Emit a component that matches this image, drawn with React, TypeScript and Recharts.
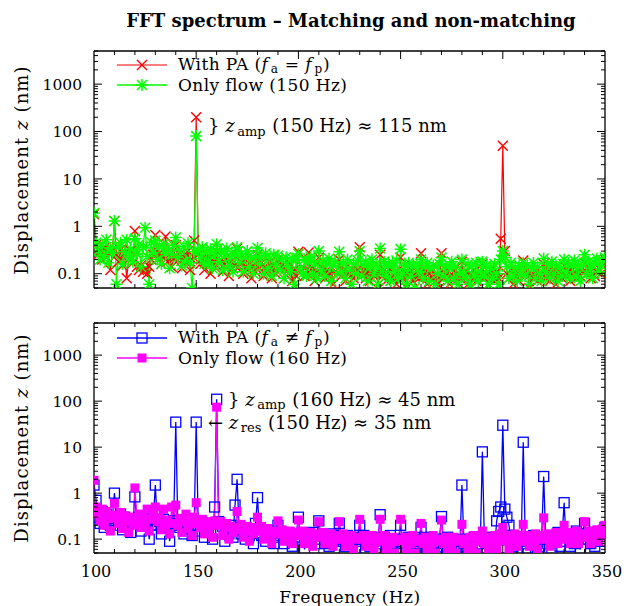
import React from "react";
import { LineChart, Line, XAxis, YAxis } from "recharts";

// Frequency grid: samples every 1 Hz starting at 100 Hz
const F_START = 100;
const F_STEP = 1;

// ---- Top panel: matching case ----
const withPaMatch = [
  1.8, 0.4, 0.25, 0.3, 0.2, 0.35, 0.22, 0.28, 0.12, 0.3,
  1.3, 0.25, 0.18, 0.32, 0.15, 0.27, 0.08, 0.22, 0.3, 0.17,
  0.8, 0.14, 0.12, 0.15, 0.11, 0.13, 0.1, 0.14, 0.2, 0.25,
  0.66, 0.2, 0.27, 0.16, 0.23, 0.61, 0.18, 0.25, 0.14, 0.21,
  0.4, 0.19, 0.26, 0.13, 0.22, 0.17, 0.3, 0.12, 0.2, 0.5,
  200, 0.25, 0.16, 0.21, 0.12, 0.19, 0.24, 0.1, 0.18, 0.14,
  0.3, 0.17, 0.2, 0.11, 0.16, 0.22, 0.09, 0.18, 0.13, 0.15,
  0.34, 0.14, 0.18, 0.1, 0.2, 0.12, 0.16, 0.08, 0.15, 0.11,
  0.25, 0.13, 0.17, 0.09, 0.14, 0.11, 0.18, 0.08, 0.13, 0.1,
  0.2, 0.12, 0.15, 0.08, 0.13, 0.1, 0.16, 0.07, 0.12, 0.09,
  0.29, 0.11, 0.14, 0.09, 0.12, 0.28, 0.1, 0.13, 0.07, 0.11,
  0.22, 0.1, 0.13, 0.08, 0.12, 0.09, 0.14, 0.06, 0.11, 0.1,
  0.2, 0.09, 0.12, 0.07, 0.11, 0.1, 0.13, 0.08, 0.1, 0.12,
  0.36, 0.1, 0.12, 0.08, 0.11, 0.07, 0.13, 0.09, 0.1, 0.06,
  0.25, 0.09, 0.12, 0.07, 0.1, 0.13, 0.08, 0.11, 0.06, 0.1,
  0.22, 0.08, 0.11, 0.05, 0.1, 0.12, 0.07, 0.09, 0.11, 0.08,
  0.27, 0.09, 0.11, 0.06, 0.1, 0.08, 0.12, 0.07, 0.09, 0.05,
  0.27, 0.08, 0.1, 0.12, 0.06, 0.09, 0.11, 0.07, 0.1, 0.08,
  0.18, 0.09, 0.11, 0.06, 0.1, 0.08, 0.12, 0.07, 0.09, 0.11,
  0.16, 0.08, 0.1, 0.06, 0.12, 0.09, 0.07, 0.11, 0.08, 0.55,
  50, 0.3, 0.1, 0.08, 0.12, 0.06, 0.09, 0.11, 0.07, 0.1,
  0.19, 0.09, 0.12, 0.05, 0.1, 0.08, 0.11, 0.07, 0.09, 0.1,
  0.16, 0.08, 0.11, 0.07, 0.1, 0.12, 0.06, 0.09, 0.11, 0.08,
  0.15, 0.09, 0.11, 0.07, 0.12, 0.1, 0.08, 0.13, 0.09, 0.11,
  0.17, 0.1, 0.12, 0.08, 0.14, 0.09, 0.11, 0.13, 0.1, 0.16,
  0.2,
];

const onlyFlow150 = [
  1.9, 0.45, 0.3, 0.2, 0.4, 0.24, 0.52, 0.17, 0.35, 0.27,
  1.3, 0.06, 0.37, 0.45, 0.16, 0.29, 0.52, 0.22, 0.33, 0.18,
  0.55, 0.26, 0.42, 0.14, 0.36, 0.93, 0.23, 0.06, 0.46, 0.28,
  0.5, 0.2, 0.38, 0.16, 0.43, 0.27, 0.35, 0.13, 0.26, 0.4,
  0.58, 0.22, 0.31, 0.15, 0.37, 0.19, 0.44, 0.17, 0.05, 0.29,
  80, 0.31, 0.21, 0.36, 0.16, 0.28, 0.18, 0.33, 0.13, 0.26,
  0.42, 0.18, 0.3, 0.12, 0.25, 0.34, 0.15, 0.23, 0.11, 0.27,
  0.36, 0.17, 0.26, 0.11, 0.22, 0.3, 0.14, 0.21, 0.1, 0.24,
  0.35, 0.16, 0.23, 0.1, 0.27, 0.13, 0.21, 0.09, 0.25, 0.15,
  0.24, 0.12, 0.2, 0.08, 0.22, 0.14, 0.11, 0.21, 0.06, 0.19,
  0.26, 0.13, 0.1, 0.2, 0.09, 0.18, 0.23, 0.1, 0.17, 0.08,
  0.3, 0.12, 0.19, 0.09, 0.16, 0.21, 0.07, 0.15, 0.18, 0.1,
  0.29, 0.11, 0.17, 0.08, 0.2, 0.12, 0.06, 0.16, 0.1, 0.19,
  0.3, 0.09, 0.15, 0.18, 0.07, 0.14, 0.2, 0.1, 0.16, 0.06,
  0.34, 0.11, 0.18, 0.09, 0.15, 0.07, 0.17, 0.11, 0.19, 0.08,
  0.33, 0.1, 0.15, 0.06, 0.17, 0.09, 0.14, 0.05, 0.16, 0.11,
  0.2, 0.08, 0.14, 0.17, 0.07, 0.13, 0.15, 0.06, 0.1, 0.16,
  0.22, 0.09, 0.15, 0.07, 0.13, 0.18, 0.08, 0.14, 0.06, 0.1,
  0.2, 0.11, 0.08, 0.16, 0.06, 0.14, 0.09, 0.17, 0.07, 0.11,
  0.18, 0.09, 0.15, 0.06, 0.13, 0.08, 0.16, 0.1, 0.06, 0.2,
  0.3, 0.22, 0.14, 0.08, 0.17, 0.09, 0.13, 0.07, 0.15, 0.1,
  0.17, 0.09, 0.15, 0.06, 0.13, 0.17, 0.08, 0.14, 0.1, 0.07,
  0.21, 0.11, 0.16, 0.08, 0.18, 0.1, 0.15, 0.07, 0.14, 0.09,
  0.2, 0.11, 0.17, 0.08, 0.15, 0.19, 0.09, 0.14, 0.07, 0.16,
  0.25, 0.1, 0.18, 0.13, 0.08, 0.17, 0.21, 0.11, 0.15, 0.19,
  0.22,
];

// ---- Bottom panel: non-matching case ----
const withPaNonMatch = [
  1.5, 0.7, 0.3, 0.22, 0.4, 0.18, 0.35, 0.25, 0.2, 0.3,
  1.0, 0.28, 0.2, 0.35, 0.16, 0.3, 0.22, 0.26, 0.14, 0.24,
  0.83, 0.22, 0.3, 0.15, 0.25, 0.19, 0.28, 0.1, 0.21, 0.26,
  1.5, 0.2, 0.24, 0.13, 0.27, 0.18, 0.22, 0.09, 0.2, 0.25,
  35, 0.22, 0.18, 0.26, 0.13, 0.21, 0.17, 0.24, 0.12, 0.2,
  35, 0.2, 0.15, 0.23, 0.11, 0.19, 0.16, 0.21, 0.1, 0.5,
  110, 0.24, 0.14, 0.19, 0.09, 0.17, 0.13, 0.2, 0.11, 0.55,
  2.0, 0.18, 0.13, 0.16, 0.1, 0.15, 0.12, 0.17, 0.08, 0.22,
  0.8, 0.14, 0.12, 0.16, 0.09, 0.13, 0.11, 0.15, 0.08, 0.12,
  0.2, 0.11, 0.14, 0.08, 0.13, 0.1, 0.12, 0.07, 0.11, 0.13,
  0.3, 0.1, 0.13, 0.06, 0.12, 0.09, 0.11, 0.14, 0.08, 0.12,
  0.25, 0.1, 0.12, 0.08, 0.11, 0.07, 0.13, 0.09, 0.1, 0.12,
  0.22, 0.09, 0.11, 0.07, 0.12, 0.1, 0.08, 0.11, 0.06, 0.1,
  0.2, 0.09, 0.12, 0.08, 0.1, 0.07, 0.11, 0.09, 0.06, 0.1,
  0.34, 0.08, 0.11, 0.07, 0.1, 0.12, 0.06, 0.09, 0.05, 0.1,
  0.2, 0.08, 0.1, 0.06, 0.11, 0.05, 0.09, 0.07, 0.1, 0.08,
  0.18, 0.07, 0.1, 0.05, 0.09, 0.11, 0.06, 0.08, 0.05, 0.1,
  0.31, 0.07, 0.09, 0.11, 0.05, 0.08, 0.1, 0.06, 0.09, 0.07,
  1.5, 0.08, 0.1, 0.06, 0.09, 0.05, 0.11, 0.07, 0.1, 0.08,
  7.9, 0.09, 0.05, 0.1, 0.07, 0.11, 0.06, 0.25, 0.4, 0.5,
  30, 0.45, 0.3, 0.2, 0.09, 0.07, 0.1, 0.05, 0.11, 0.08,
  12.8, 0.09, 0.06, 0.1, 0.08, 0.12, 0.05, 0.09, 0.07, 0.11,
  2.3, 0.1, 0.08, 0.12, 0.06, 0.1, 0.09, 0.14, 0.07, 0.11,
  0.62, 0.09, 0.13, 0.07, 0.11, 0.08, 0.15, 0.1, 0.06, 0.12,
  0.22, 0.1, 0.14, 0.08, 0.12, 0.07, 0.11, 0.13, 0.09, 0.15,
  0.18,
];

const onlyFlow160 = [
  1.9, 0.5, 0.35, 0.25, 0.45, 0.2, 0.4, 0.28, 0.15, 0.33,
  0.6, 0.3, 0.22, 0.38, 0.17, 0.32, 0.25, 0.14, 0.3, 0.2,
  1.3, 0.28, 0.35, 0.18, 0.3, 0.22, 0.45, 0.15, 0.27, 0.33,
  0.5, 0.24, 0.3, 0.16, 0.45, 0.2, 0.26, 0.13, 0.5, 0.22,
  0.55, 0.2, 0.28, 0.14, 0.24, 0.35, 0.17, 0.22, 0.12, 0.3,
  0.62, 0.22, 0.18, 0.27, 0.13, 0.24, 0.16, 0.2, 0.11, 0.25,
  74, 0.2, 0.24, 0.12, 0.18, 0.22, 0.1, 0.19, 0.14, 0.16,
  0.4, 0.17, 0.21, 0.11, 0.16, 0.19, 0.09, 0.15, 0.13, 0.18,
  0.3, 0.15, 0.19, 0.1, 0.14, 0.17, 0.12, 0.08, 0.15, 0.13,
  0.25, 0.13, 0.16, 0.09, 0.14, 0.11, 0.15, 0.08, 0.12, 0.14,
  0.26, 0.12, 0.15, 0.08, 0.13, 0.1, 0.14, 0.07, 0.11, 0.13,
  0.24, 0.11, 0.14, 0.08, 0.12, 0.09, 0.13, 0.07, 0.1, 0.12,
  0.24, 0.1, 0.13, 0.07, 0.11, 0.09, 0.12, 0.06, 0.1, 0.11,
  0.27, 0.1, 0.12, 0.07, 0.11, 0.08, 0.12, 0.06, 0.09, 0.11,
  0.27, 0.09, 0.12, 0.06, 0.1, 0.08, 0.11, 0.05, 0.09, 0.1,
  0.27, 0.09, 0.11, 0.06, 0.1, 0.08, 0.12, 0.05, 0.09, 0.1,
  0.22, 0.08, 0.11, 0.06, 0.1, 0.07, 0.12, 0.05, 0.09, 0.1,
  0.26, 0.08, 0.11, 0.06, 0.1, 0.07, 0.11, 0.05, 0.09, 0.1,
  0.21, 0.08, 0.1, 0.06, 0.11, 0.07, 0.12, 0.05, 0.09, 0.1,
  0.15, 0.08, 0.11, 0.06, 0.1, 0.07, 0.12, 0.06, 0.09, 0.13,
  0.18, 0.09, 0.12, 0.06, 0.11, 0.08, 0.13, 0.07, 0.1, 0.12,
  0.21, 0.09, 0.12, 0.07, 0.11, 0.08, 0.13, 0.06, 0.1, 0.12,
  0.29, 0.1, 0.13, 0.07, 0.12, 0.09, 0.14, 0.08, 0.11, 0.13,
  0.2, 0.1, 0.14, 0.08, 0.12, 0.09, 0.15, 0.08, 0.11, 0.13,
  0.24, 0.11, 0.15, 0.08, 0.13, 0.1, 0.16, 0.09, 0.12, 0.17,
  0.2,
];

// ---- Axes ----
const X_DOMAIN: [number, number] = [100, 350];
const xMajorTicks = [100, 150, 200, 250, 300, 350];
const xMinorStep = 10;
const Y_DOMAIN: [number, number] = [0.05, 5000];
const yMajorTicks = [0.1, 1, 10, 100, 1000];
const yTickLabels = ["0.1", "1", "10", "100", "1000"];
const yDecades = [0.01, 0.1, 1, 10, 100, 1000];
const yMantissas = [1, 2, 3, 4, 5, 6, 7, 8, 9];

const xAllTicks: number[] = [];
for (let v = X_DOMAIN[0]; v <= X_DOMAIN[1]; v += xMinorStep) xAllTicks.push(v);
const yAllTicks: number[] = [];
yDecades.forEach((d) =>
  yMantissas.forEach((m) => {
    const v = +(m * d).toPrecision(6);
    if (v >= Y_DOMAIN[0] - 1e-9 && v <= Y_DOMAIN[1] + 1e-9) yAllTicks.push(v);
  })
);

const topRows = withPaMatch.map((v, i) => ({
  f: F_START + i * F_STEP,
  red: v,
  green: onlyFlow150[i],
}));
const bottomRows = withPaNonMatch.map((v, i) => ({
  f: F_START + i * F_STEP,
  blue: v,
  magenta: onlyFlow160[i],
}));

const FONT_NAME = "DejaVu Serif";
const FONT = "'DejaVu Serif', serif";
const RED = "#ff0000";
const GREEN = "#00ff00";
const BLUE = "#0000ff";
const MAGENTA = "#ff00ff";

// ---- Markers ----
const crossPath = (cx: number, cy: number, s: number) =>
  `M${cx - s},${cy - s}L${cx + s},${cy + s}M${cx - s},${cy + s}L${cx + s},${cy - s}`;
const plusPath = (cx: number, cy: number, s: number) =>
  `M${cx - s},${cy}L${cx + s},${cy}M${cx},${cy - s}L${cx},${cy + s}`;

const CrossDot = (p: any) => {
  const { cx, cy, index } = p;
  if (cx == null || cy == null) return <g key={`rc${index}`} />;
  return <path key={`rc${index}`} d={crossPath(cx, cy, 5)} stroke={RED} strokeWidth={1.4} fill="none" />;
};
const StarDot = (p: any) => {
  const { cx, cy, index } = p;
  if (cx == null || cy == null) return <g key={`gs${index}`} />;
  return (
    <path
      key={`gs${index}`}
      d={crossPath(cx, cy, 5) + plusPath(cx, cy, 6)}
      stroke={GREEN}
      strokeWidth={1.5}
      fill="none"
    />
  );
};
const OpenSquareDot = (p: any) => {
  const { cx, cy, index } = p;
  if (cx == null || cy == null) return <g key={`bs${index}`} />;
  return <rect key={`bs${index}`} x={cx - 5} y={cy - 5} width={10} height={10} stroke={BLUE} strokeWidth={1.3} fill="none" />;
};
const FilledSquareDot = (p: any) => {
  const { cx, cy, index } = p;
  if (cx == null || cy == null) return <g key={`ms${index}`} />;
  return <rect key={`ms${index}`} x={cx - 4.5} y={cy - 4.5} width={9} height={9} fill={MAGENTA} stroke="none" />;
};

// ---- Ticks ----
const isYMajor = (v: number) => yMajorTicks.some((t) => Math.abs(t - v) / t < 1e-6);

const makeXTick = (side: "top" | "bottom", showLabel: boolean) => (props: any) => {
  const { x, y, payload } = props;
  const v = payload.value;
  const major = xMajorTicks.includes(v);
  const len = major ? 8 : 4;
  const y2 = side === "bottom" ? y - len : y + len;
  return (
    <g key={`xt-${side}-${v}`}>
      {v !== X_DOMAIN[0] && v !== X_DOMAIN[1] && (
        <line x1={x} x2={x} y1={y} y2={y2} stroke="#000" strokeWidth={1} />
      )}
      {showLabel && major && (
        <text x={x + 2} y={y + 24} textAnchor="middle" fontFamily={FONT} fontSize={16} fill="#000">
          {v}
        </text>
      )}
    </g>
  );
};

const makeYTick = (side: "left" | "right") => (props: any) => {
  const { x, y, payload } = props;
  const v = payload.value;
  const major = isYMajor(v);
  const len = major ? 8 : 4;
  const x2 = side === "left" ? x + len : x - len;
  const idx = yMajorTicks.findIndex((t) => Math.abs(t - v) / t < 1e-6);
  return (
    <g key={`yt-${side}-${v}`}>
      <line x1={x} x2={x2} y1={y} y2={y} stroke="#000" strokeWidth={1} />
      {side === "left" && idx >= 0 && (
        <text x={x - 12} y={y} dy="0.36em" textAnchor="end" fontFamily={FONT} fontSize={15.5} fill="#000">
          {yTickLabels[idx]}
        </text>
      )}
    </g>
  );
};

const axisLine = { stroke: "#000", strokeWidth: 1.3 };

type PanelProps = {
  data: any[];
  height: number;
  topH: number;
  bottomH: number;
  showXLabels: boolean;
  children: React.ReactNode;
};

const Panel = ({ data, height, topH, bottomH, showXLabels, children }: PanelProps) => (
  <LineChart width={626} height={height} data={data} margin={{ top: 0, right: 0, bottom: 0, left: 0 }}>
    <XAxis
      xAxisId="b"
      dataKey="f"
      type="number"
      domain={X_DOMAIN}
      ticks={xAllTicks}
      interval={0}
      height={bottomH}
      tickSize={0}
      tickMargin={0}
      tickLine={false}
      axisLine={axisLine}
      tick={makeXTick("bottom", showXLabels)}
      allowDataOverflow
    />
    <XAxis
      xAxisId="t"
      orientation="top"
      dataKey="f"
      type="number"
      domain={X_DOMAIN}
      ticks={xAllTicks}
      interval={0}
      height={topH}
      tickSize={0}
      tickMargin={0}
      tickLine={false}
      axisLine={axisLine}
      tick={makeXTick("top", false)}
      allowDataOverflow
    />
    <YAxis
      yAxisId="l"
      type="number"
      scale="log"
      domain={Y_DOMAIN}
      ticks={yAllTicks}
      interval={0}
      width={94}
      tickSize={0}
      tickMargin={0}
      tickLine={false}
      axisLine={axisLine}
      tick={makeYTick("left")}
      allowDataOverflow
    />
    <YAxis
      yAxisId="r"
      orientation="right"
      type="number"
      scale="log"
      domain={Y_DOMAIN}
      ticks={yAllTicks}
      interval={0}
      width={21}
      tickSize={0}
      tickMargin={0}
      tickLine={false}
      axisLine={axisLine}
      tick={makeYTick("right")}
      allowDataOverflow
    />
    {children}
  </LineChart>
);

// ---- Rich text (math-like) laid out as separate text pieces ----
type Seg = { t: string; it?: boolean; sub?: boolean };

let measureCtx: CanvasRenderingContext2D | null = null;
const measure = (text: string, size: number, italic: boolean, spacing: number) => {
  if (!measureCtx) measureCtx = document.createElement("canvas").getContext("2d");
  const base = measureCtx
    ? ((measureCtx.font = `${italic ? "italic " : ""}${size}px '${FONT_NAME}'`), measureCtx.measureText(text).width)
    : text.length * size * 0.55;
  return base + spacing * text.length;
};

const RichText = ({
  x, y, segs, size, subSize, subDy, spacing, id,
}: { x: number; y: number; segs: Seg[]; size: number; subSize: number; subDy: number; spacing: number; id: string }) => {
  let cx = x;
  const out: React.ReactNode[] = [];
  segs.forEach((s, i) => {
    const fs = s.sub ? subSize : size;
    const it = !!s.it;
    const sp = s.sub ? 0 : spacing;
    const full = measure(s.t, fs, it, sp);
    const lead = s.t.length - s.t.trimStart().length;
    const leadW = lead > 0 ? measure(s.t.slice(0, lead), fs, it, sp) : 0;
    const trimmed = s.t.trim();
    const pre = s.sub ? 1 : 0;
    if (trimmed.length > 0) {
      out.push(
        <text
          key={`${id}-${i}`}
          x={cx + leadW + pre}
          y={s.sub ? y + subDy : y}
          fontFamily={FONT}
          fontSize={fs}
          fontStyle={it ? "italic" : "normal"}
          letterSpacing={sp}
          fill="#000"
        >
          {trimmed}
        </text>
      );
    }
    cx += full + pre + (it ? 1.5 : 0) + (s.sub ? 1 : 0);
  });
  return <g>{out}</g>;
};

const LEG = 17; // legend font size
const NOTE = 18; // annotation font size

const legendTop1: Seg[] = [{ t: "With PA (" }, { t: "f", it: true }, { t: "a", sub: true }, { t: " = " }, { t: "f", it: true }, { t: "p", sub: true }, { t: ")" }];
const legendTop2: Seg[] = [{ t: "Only flow (150 Hz)" }];
const legendBot1: Seg[] = [{ t: "With PA (" }, { t: "f", it: true }, { t: "a", sub: true }, { t: " ≠ " }, { t: "f", it: true }, { t: "p", sub: true }, { t: ")" }];
const legendBot2: Seg[] = [{ t: "Only flow (160 Hz)" }];
const noteTop: Seg[] = [{ t: "} " }, { t: "z", it: true }, { t: "amp", sub: true }, { t: " (150 Hz) ≈ 115 nm" }];
const noteBot1: Seg[] = [{ t: "} " }, { t: "z", it: true }, { t: "amp", sub: true }, { t: " (160 Hz) ≈ 45 nm" }];
const noteBot2: Seg[] = [{ t: "← " }, { t: "z", it: true }, { t: "res", sub: true }, { t: " (150 Hz) ≈ 35 nm" }];

export default function App() {
  return (
    <div style={{ position: "absolute", left: 0, top: 0, width: 626, height: 606, background: "#fff" }}>
      <div style={{ position: "absolute", left: 0, top: 0 }}>
        <Panel data={topRows} height={300} topH={51} bottomH={12} showXLabels={false}>
          <Line xAxisId="b" yAxisId="l" dataKey="red" stroke={RED} strokeWidth={1.2} dot={CrossDot} isAnimationActive={false} />
          <Line xAxisId="b" yAxisId="l" dataKey="green" stroke={GREEN} strokeWidth={1.3} dot={StarDot} isAnimationActive={false} />
        </Panel>
      </div>
      <div style={{ position: "absolute", left: 0, top: 300 }}>
        <Panel data={bottomRows} height={306} topH={23} bottomH={53} showXLabels={true}>
          <Line xAxisId="b" yAxisId="l" dataKey="blue" stroke={BLUE} strokeWidth={1.3} dot={OpenSquareDot} isAnimationActive={false} />
          <Line xAxisId="b" yAxisId="l" dataKey="magenta" stroke={MAGENTA} strokeWidth={1.3} dot={FilledSquareDot} isAnimationActive={false} />
        </Panel>
      </div>
      <svg
        width={626}
        height={606}
        style={{ position: "absolute", left: 0, top: 0, pointerEvents: "none" }}
        fontFamily={FONT}
      >
        <text x={351} y={27} textAnchor="middle" fontSize={18} fontWeight="bold" fill="#000">
          FFT spectrum – Matching and non-matching
        </text>
        {/* y labels */}
        <text transform="translate(28,170) rotate(-90)" textAnchor="middle" fontSize={18} letterSpacing={1.1} fill="#000">
          Displacement <tspan fontStyle="italic">z</tspan> (nm)
        </text>
        <text transform="translate(28,438) rotate(-90)" textAnchor="middle" fontSize={18} letterSpacing={1.1} fill="#000">
          Displacement <tspan fontStyle="italic">z</tspan> (nm)
        </text>
        <text x={350} y={603} textAnchor="middle" fontSize={17} letterSpacing={0.5} fill="#000">
          Frequency (Hz)
        </text>

        {/* top legend */}
        <line x1={117} x2={167} y1={65} y2={65} stroke={RED} strokeWidth={1.2} />
        <path d={crossPath(142, 65, 5)} stroke={RED} strokeWidth={1.4} fill="none" />
        <RichText id="lt1" x={178} y={70} segs={legendTop1} size={LEG} subSize={12} subDy={2.5} spacing={0.4} />
        <line x1={117} x2={167} y1={85} y2={85} stroke={GREEN} strokeWidth={1.3} />
        <path d={crossPath(142, 85, 5) + plusPath(142, 85, 6)} stroke={GREEN} strokeWidth={1.5} fill="none" />
        <RichText id="lt2" x={178} y={91} segs={legendTop2} size={LEG} subSize={12} subDy={2.5} spacing={0.4} />

        {/* top annotation */}
        <RichText id="nt" x={208} y={132} segs={noteTop} size={NOTE} subSize={13} subDy={4} spacing={0} />

        {/* bottom legend */}
        <line x1={117} x2={167} y1={338} y2={338} stroke={BLUE} strokeWidth={1.3} />
        <rect x={137} y={333} width={10} height={10} stroke={BLUE} strokeWidth={1.3} fill="none" />
        <RichText id="lb1" x={178} y={343} segs={legendBot1} size={LEG} subSize={12} subDy={2.5} spacing={0.4} />
        <line x1={117} x2={167} y1={358} y2={358} stroke={MAGENTA} strokeWidth={1.3} />
        <rect x={137.5} y={353.5} width={9} height={9} fill={MAGENTA} />
        <RichText id="lb2" x={178} y={364} segs={legendBot2} size={LEG} subSize={12} subDy={2.5} spacing={0.4} />

        {/* bottom annotations */}
        <RichText id="nb1" x={228} y={406} segs={noteBot1} size={NOTE} subSize={13} subDy={3} spacing={0} />
        <RichText id="nb2" x={208} y={429} segs={noteBot2} size={NOTE} subSize={13} subDy={3} spacing={0} />
      </svg>
    </div>
  );
}
